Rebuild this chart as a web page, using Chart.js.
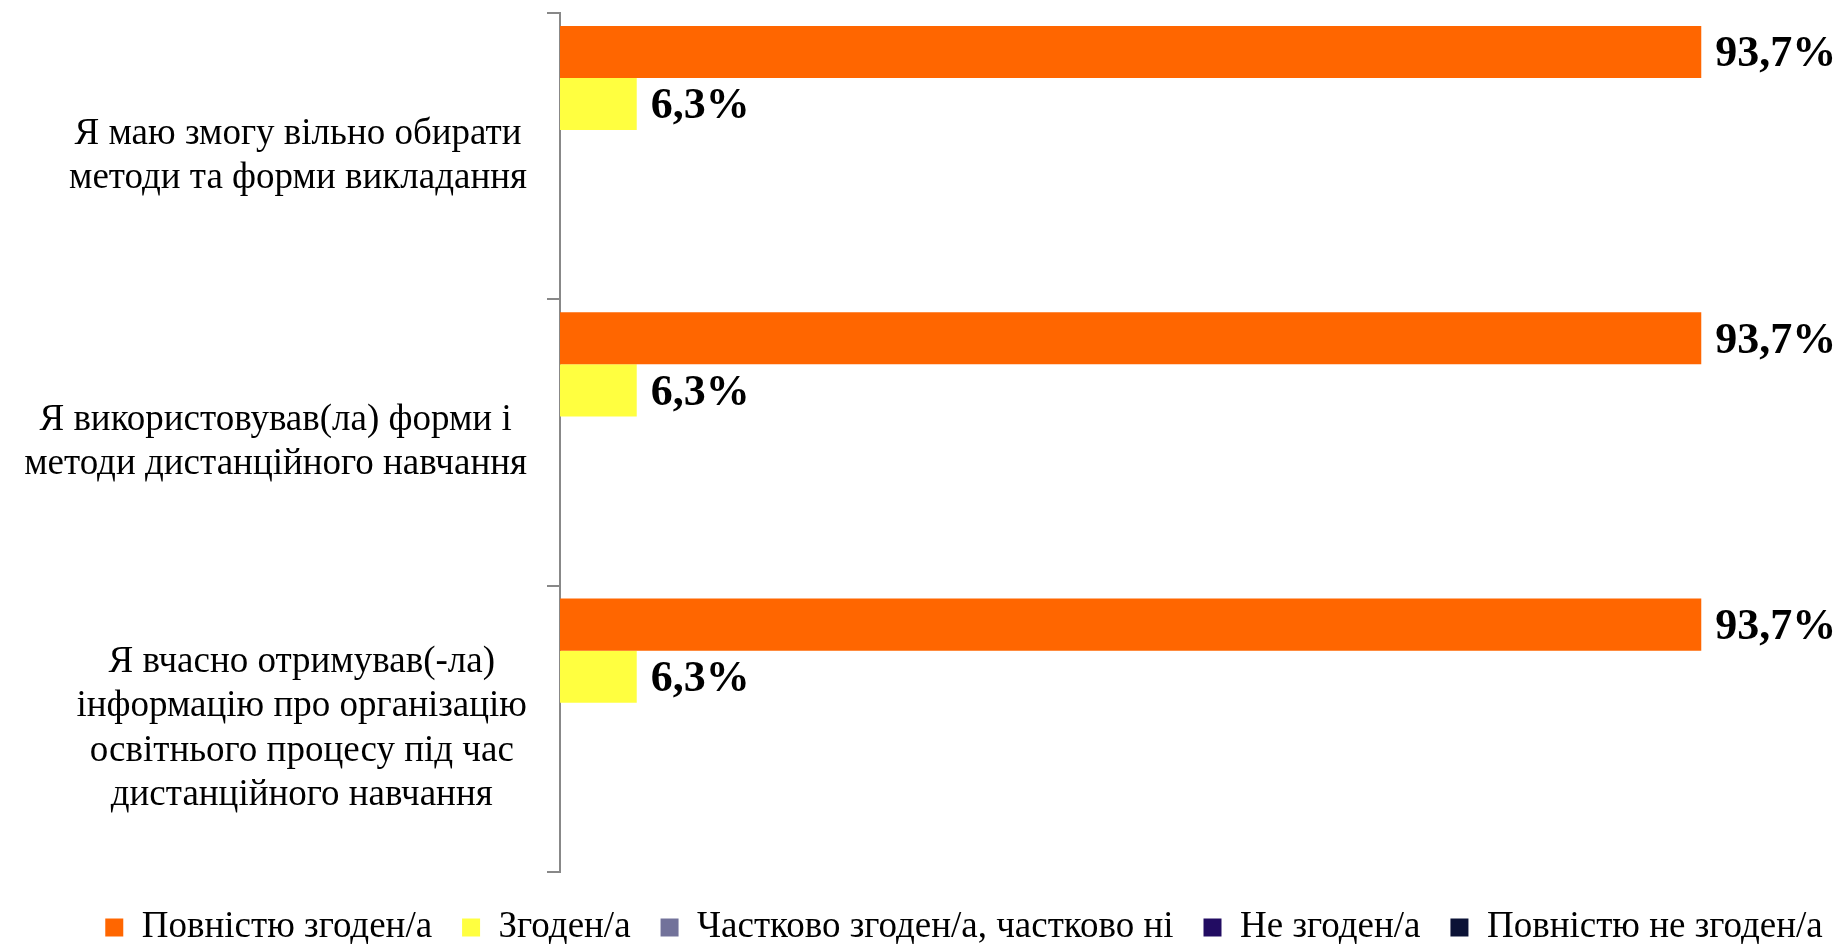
<!DOCTYPE html>
<html>
<head>
<meta charset="utf-8">
<script src="https://cdn.jsdelivr.net/npm/chart.js@4"></script>
<style>
  html, body { margin: 0; padding: 0; background: #fff; }
  #wrap { width: 1835px; height: 944px; }
</style>
</head>
<body>
<div id="wrap"><canvas id="barChart" width="1835" height="944"></canvas></div>
<script>
// Categories (each label split into lines)
const categories = [
  ['Я маю змогу вільно обирати', 'методи та форми викладання'],
  ['Я використовував(ла) форми і', 'методи дистанційного навчання'],
  ['Я вчасно отримував(-ла)', 'інформацію про організацію', 'освітнього процесу під час', 'дистанційного навчання']
];

// Series values, %
const fullyAgree = [93.7, 93.7, 93.7];
const agree = [6.3, 6.3, 6.3];
const partlyAgree = [0, 0, 0];
const disagree = [0, 0, 0];
const fullyDisagree = [0, 0, 0];

const seriesNames = ['Повністю згоден/а', 'Згоден/а', 'Частково згоден/а, частково ні', 'Не згоден/а', 'Повністю не згоден/а'];
const seriesColors = ['#ff6600', '#ffff40', '#72729a', '#220c62', '#0b1236'];

const serif = "'Liberation Serif', 'Times New Roman', serif";

// Draw category labels: lines centred inside a block that is right-aligned to the axis
const categoryLabels = {
  id: 'categoryLabels',
  afterDraw(chart) {
    const ctx = chart.ctx;
    const y = chart.scales.y;
    const lineH = 44.5;
    const rightEdge = chart.chartArea.left - 33;
    ctx.save();
    ctx.font = '37px ' + serif;
    ctx.fillStyle = '#000';
    ctx.textAlign = 'center';
    ctx.textBaseline = 'middle';
    categories.forEach((lines, i) => {
      const widest = Math.max(...lines.map(l => ctx.measureText(l).width));
      const cx = rightEdge - widest / 2;
      const cy = y.getPixelForValue(i);
      const top = cy - (lines.length - 1) * lineH / 2;
      lines.forEach((l, j) => ctx.fillText(l, cx, top + j * lineH));
    });
    ctx.restore();
  }
};

// Value labels at the end of each bar
const valueLabels = {
  id: 'valueLabels',
  afterDatasetsDraw(chart) {
    const ctx = chart.ctx;
    ctx.save();
    ctx.font = 'bold 44px ' + serif;
    ctx.fillStyle = '#000';
    ctx.textAlign = 'left';
    ctx.textBaseline = 'middle';
    chart.data.datasets.forEach((ds, di) => {
      const meta = chart.getDatasetMeta(di);
      meta.data.forEach((bar, i) => {
        const v = ds.data[i];
        if (!v) return;
        ctx.fillText(v.toFixed(1).replace('.', ',') + '%', bar.x + 14, bar.y + 3);
      });
    });
    ctx.restore();
  }
};

// Legend in the reference sits a bit right of centre and a little lower
const legendShift = {
  id: 'legendShift',
  afterLayout(chart) {
    const lg = chart.legend;
    lg.left += 75;
    lg.right += 75;
    lg.top += 7;
    lg.bottom += 7;
  }
};

const allSeries = [fullyAgree, agree, partlyAgree, disagree, fullyDisagree];

new Chart(document.getElementById('barChart').getContext('2d'), {
  type: 'bar',
  data: {
    labels: categories.map(c => c.join(' ')),
    datasets: allSeries.map((d, i) => ({
      label: seriesNames[i],
      data: d,
      backgroundColor: seriesColors[i],
      borderWidth: 0,
      categoryPercentage: 0.91,
      barPercentage: 1
    }))
  },
  options: {
    indexAxis: 'y',
    responsive: false,
    animation: false,
    layout: { padding: { top: 13, right: 57, left: 0, bottom: -5 } },
    scales: {
      x: { display: false, min: 0, max: 100 },
      y: {
        afterFit: scale => { scale.width = 560; },
        ticks: { display: false },
        border: { display: true, color: '#888', width: 2 },
        grid: { drawOnChartArea: false, tickLength: 13, color: '#888', lineWidth: 2 }
      }
    },
    plugins: {
      tooltip: { enabled: false },
      legend: {
        position: 'bottom',
        labels: {
          color: '#000',
          boxWidth: 18,
          boxHeight: 18,
          padding: 30,
          font: { family: serif, size: 37 }
        }
      }
    }
  },
  plugins: [categoryLabels, valueLabels, legendShift]
});
</script>
</body>
</html>
